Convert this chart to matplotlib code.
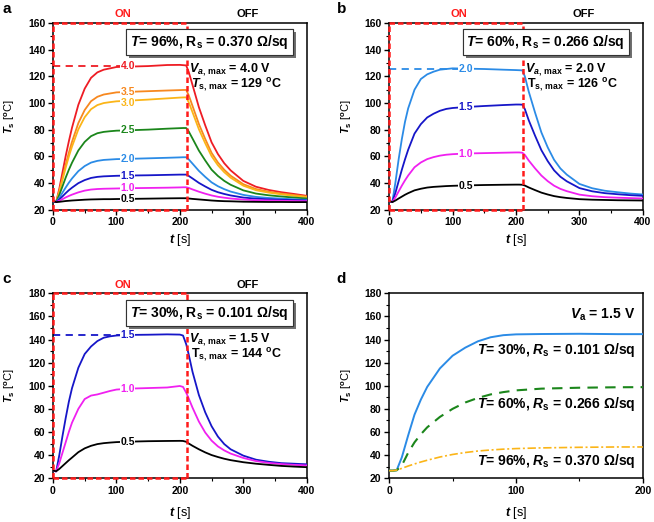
import matplotlib

matplotlib.use("Agg")
import matplotlib.pyplot as plt
import matplotlib.patheffects as pe
from matplotlib.ticker import MultipleLocator

plt.rcParams["font.family"] = ["Liberation Sans", "DejaVu Sans"]
plt.rcParams["font.weight"] = "bold"
plt.rcParams["mathtext.fontset"] = "custom"
plt.rcParams["mathtext.rm"] = "Liberation Sans:bold"
plt.rcParams["mathtext.it"] = "Liberation Sans:italic:bold"
plt.rcParams["mathtext.bf"] = "Liberation Sans:bold"

C_RED = "#ee1c24"
C_ORANGE = "#f7881f"
C_GOLD = "#fbb518"
C_GREEN = "#1b861b"
C_LBLUE = "#2b8be6"
C_BLUE = "#1616c8"
C_MAG = "#f020f0"
C_BLACK = "#000000"

# ---- data ---------------------------------------------------------------
# time grid for the on/off cycles (panels a-c)
t_cyc = [0, 5, 10, 15, 20, 25, 30, 40, 50, 60, 70, 80, 90, 100, 120, 150, 180, 200, 205, 210,
         214, 220, 230, 240, 250, 260, 270, 280, 300, 320, 340, 360, 380, 400]

# panel a: T = 96 %
a_volts = ["4.0", "3.5", "3.0", "2.5", "2.0", "1.5", "1.0", "0.5"]
a_40 = [26.5, 25.8, 35.9, 48.1, 60.2, 71.3, 81.5, 98.7, 110.8, 118.9, 123.0, 125.0, 126.0, 127.0,
        127.3, 127.7, 128.5, 128.6, 128.4, 128.2, 123.3, 113.5, 96.9, 83.3, 70.6, 61.8, 54.9,
        49.6, 41.7, 37.3, 34.9, 33.2, 31.9, 30.5]
a_35 = [26.5, 25.8, 34.0, 43.9, 53.7, 62.8, 71.0, 85.0, 94.8, 101.4, 104.7, 106.4, 107.2, 108.0,
        108.4, 108.9, 109.4, 109.7, 109.8, 109.8, 105.8, 97.8, 84.3, 73.1, 62.7, 55.5, 50.0,
        45.6, 39.2, 35.6, 33.6, 32.2, 31.1, 30.0]
a_30 = [26.5, 25.8, 33.4, 42.5, 51.5, 59.9, 67.4, 80.3, 89.4, 95.4, 98.5, 100.0, 100.7, 101.3,
        101.8, 102.6, 103.5, 104.1, 104.2, 104.3, 100.6, 93.1, 80.4, 69.9, 60.2, 53.4, 48.2,
        44.1, 38.1, 34.7, 32.9, 31.6, 30.5, 29.5]
a_25 = [26.5, 25.8, 31.2, 37.6, 44.1, 50.0, 55.3, 64.5, 70.9, 75.2, 77.4, 78.4, 78.9, 79.3,
        79.6, 80.1, 80.8, 81.2, 81.3, 81.3, 78.7, 73.4, 64.4, 57.0, 50.1, 45.4, 41.7,
        38.8, 34.6, 32.2, 30.9, 30.0, 29.2, 28.5]
a_20 = [26.5, 25.8, 29.0, 32.9, 36.7, 40.3, 43.5, 49.0, 52.8, 55.4, 56.7, 57.4, 57.7, 58.0,
        58.2, 58.6, 59.0, 59.3, 59.4, 59.4, 57.8, 54.6, 49.2, 44.7, 40.6, 37.7, 35.5,
        33.7, 31.2, 29.7, 28.9, 28.4, 27.9, 27.5]
a_15 = [26.5, 25.8, 27.8, 30.1, 32.5, 34.7, 36.6, 40.0, 42.3, 43.9, 44.7, 45.1, 45.3, 45.5,
        45.7, 45.9, 46.2, 46.4, 46.4, 46.4, 45.4, 43.5, 40.2, 37.5, 35.0, 33.2, 31.9,
        30.8, 29.2, 28.4, 27.9, 27.5, 27.3, 27.0]
a_10 = [26.5, 25.8, 26.8, 28.0, 29.3, 30.4, 31.4, 33.1, 34.4, 35.2, 35.6, 35.8, 35.9, 36.0,
        36.2, 36.4, 36.6, 36.8, 36.9, 36.9, 36.4, 35.3, 33.6, 32.1, 30.8, 29.8, 29.1,
        28.5, 27.7, 27.2, 27.0, 26.8, 26.6, 26.5]
a_05 = [26.5, 25.8, 26.0, 26.3, 26.6, 26.8, 27.0, 27.3, 27.6, 27.8, 27.9, 28.0, 28.0, 28.1,
        28.2, 28.4, 28.6, 28.7, 28.7, 28.7, 28.5, 28.2, 27.8, 27.4, 27.0, 26.7, 26.5,
        26.4, 26.1, 26.0, 25.9, 25.9, 25.8, 25.8]
a_label_y = [127.5, 108.6, 99.8, 79.5, 58.0, 45.6, 36.2, 28.3]

# panel b: T = 60 %
b_volts = ["2.0", "1.5", "1.0", "0.5"]
b_20 = [26.5, 25.8, 40.8, 57.9, 72.9, 85.9, 96.0, 110.0, 118.0, 121.5, 123.5, 125.0, 125.5, 126.0,
        125.8, 125.5, 125.0, 124.7, 124.6, 124.5, 119.9, 108.7, 92.9, 78.0, 66.8, 57.5, 51.0,
        46.4, 39.4, 36.2, 34.3, 33.2, 32.2, 31.5]
b_15 = [26.5, 25.8, 32.9, 41.5, 50.0, 57.8, 65.0, 77.1, 84.2, 89.2, 92.0, 94.2, 95.6, 96.3,
        97.0, 97.8, 98.5, 98.9, 98.9, 98.8, 95.4, 87.2, 75.6, 64.7, 56.5, 49.6, 44.8,
        41.4, 36.3, 33.9, 32.5, 31.7, 31.0, 30.5]
b_10 = [26.5, 25.8, 29.4, 33.8, 38.1, 42.1, 45.7, 51.9, 55.5, 58.0, 59.5, 60.6, 61.3, 61.7,
        62.2, 62.5, 62.8, 63.0, 63.0, 62.8, 61.1, 57.0, 51.1, 45.7, 41.5, 38.1, 35.7,
        34.0, 31.4, 30.2, 29.5, 29.1, 28.8, 28.5]
b_05 = [26.5, 25.8, 27.0, 28.5, 29.9, 31.3, 32.5, 34.6, 35.8, 36.7, 37.2, 37.5, 37.8, 38.0,
        38.3, 38.6, 38.8, 38.9, 38.9, 38.8, 38.2, 36.8, 34.8, 32.9, 31.5, 30.3, 29.5,
        28.9, 28.0, 27.6, 27.4, 27.2, 27.1, 27.0]
b_label_y = [125.8, 97.2, 62.0, 38.2]

# panel c: T = 30 %
c_volts = ["1.5", "1.0", "0.5"]
c_15 = [26.5, 25.8, 40.0, 56.5, 71.9, 86.1, 97.9, 115.6, 127.5, 134.0, 138.7, 141.6, 142.8, 143.5,
        144.0, 144.2, 144.5, 144.3, 143.5, 136.0, 127.0, 112.0, 92.0, 77.0, 65.0, 56.0, 49.5,
        45.0, 39.5, 36.0, 34.2, 33.0, 32.5, 32.0]
c_10 = [26.5, 25.8, 33.0, 42.0, 51.0, 60.0, 68.0, 80.0, 88.5, 91.5, 92.5, 94.0, 95.5, 96.7,
        97.5, 98.0, 98.5, 99.8, 99.0, 94.0, 89.0, 81.0, 69.0, 59.5, 52.5, 47.5, 44.0,
        41.3, 37.5, 34.8, 33.2, 32.2, 31.5, 31.0]
c_05 = [26.5, 26.0, 28.0, 30.5, 33.0, 35.5, 37.8, 42.5, 45.8, 48.0, 49.5, 50.3, 50.8, 51.2,
        51.6, 52.0, 52.2, 52.3, 52.2, 51.5, 50.0, 48.0, 45.0, 42.3, 40.0, 38.3, 36.8,
        35.6, 33.8, 32.5, 31.5, 30.6, 30.0, 29.5]
c_label_y = [143.8, 97.3, 51.4]

# panel d: heating at Va = 1.5 V
t_d = [0, 3, 6, 10, 15, 20, 25, 30, 40, 50, 60, 70, 80, 90, 100, 120, 150, 180, 200]
d_30 = [26.5, 26.5, 27.0, 38.0, 57.0, 75.0, 88.0, 99.0, 115.0, 126.0, 133.0, 138.5, 142.0,
        143.8, 144.5, 144.8, 145.0, 144.7, 144.7]
d_60 = [26.5, 26.5, 26.8, 31.0, 42.0, 51.0, 58.0, 64.0, 73.0, 80.0, 85.5, 89.5, 92.5,
        94.5, 96.0, 97.5, 98.3, 98.7, 98.8]
d_96 = [26.5, 26.5, 27.0, 28.5, 30.5, 32.3, 34.0, 35.5, 38.3, 40.5, 42.2, 43.5, 44.4,
        45.1, 45.6, 46.2, 46.7, 47.0, 47.0]

T_OFF = 211  # switch-off time [s]

YLAB = r"$\mathit{T}_\mathrm{s}$ [$^\mathrm{o}$C]"
XLAB = r"$\mathit{t}$ [s]"


def style_axes(ax, xmax, ymin, ymax, xmajor, xminor, xlab_y):
    ax.set_xlim(0, xmax)
    ax.set_ylim(ymin, ymax)
    ax.xaxis.set_major_locator(MultipleLocator(xmajor))
    ax.xaxis.set_minor_locator(MultipleLocator(xminor))
    ax.yaxis.set_major_locator(MultipleLocator(20))
    ax.yaxis.set_minor_locator(MultipleLocator(10))
    ax.tick_params(which="major", direction="out", length=3.5, width=1, labelsize=7.5, pad=2)
    ax.tick_params(which="minor", direction="out", length=2, width=0.8)
    for s in ax.spines.values():
        s.set_linewidth(1.1)
    ax.set_ylabel(YLAB, fontsize=8)
    ax.set_xlabel(XLAB, fontsize=9)
    ax.yaxis.set_label_coords(-0.14, 0.5)
    ax.xaxis.set_label_coords(0.5, xlab_y)


def on_off_frame(ax, ymin, ymax):
    kw = dict(color="#ff1a1a", lw=1.8, ls=(0, (2.2, 1.2)), clip_on=False, zorder=6)
    ax.plot([0, 0], [ymin, ymax], **kw)
    ax.plot([0, T_OFF], [ymax, ymax], **kw)
    ax.plot([0, T_OFF], [ymin, ymin], **kw)
    ax.plot([T_OFF, T_OFF], [ymin, ymax], **kw)
    tr = ax.get_xaxis_transform()
    ax.text(110, 1.02, "ON", color="#ff1a1a", fontsize=8, ha="center", va="bottom", transform=tr)
    ax.text(307, 1.02, "OFF", color="black", fontsize=8, ha="center", va="bottom", transform=tr)


def info_box(ax, text, y):
    t = ax.text(0.617, y, text, transform=ax.transAxes, ha="center", va="center", fontsize=10,
                zorder=7,
                bbox=dict(boxstyle="square,pad=0.28", fc="white", ec="#333333", lw=0.8))
    t.get_bbox_patch().set_path_effects(
        [pe.withSimplePatchShadow(offset=(2.2, -2.2), shadow_rgbFace="#707070", alpha=1.0),
         pe.Normal()])


def cycle_panel(ax, curves, colors, volts, label_y, label_x, box_text, box_y, vmax_text,
                tmax_text, ymin, ymax, xlab_y):
    for y, c in zip(curves, colors):
        ax.plot(t_cyc, y, color=c, lw=1.3, zorder=3)
    ax.plot([0, label_x], [label_y[0], label_y[0]], color=colors[0], lw=1.3,
            ls=(0, (4, 3)), zorder=2)
    for v, c, ly in zip(volts, colors, label_y):
        ax.text(label_x, ly, v, color=c, fontsize=7.5, ha="center", va="center", zorder=4,
                bbox=dict(fc="white", ec="none", pad=0.3))
    style_axes(ax, 400, ymin, ymax, 100, 50, xlab_y)
    on_off_frame(ax, ymin, ymax)
    info_box(ax, box_text, box_y)
    ax.text(0.535, 0.752, vmax_text, transform=ax.transAxes, fontsize=9, ha="left", va="center")
    ax.text(0.545, 0.667, tmax_text, transform=ax.transAxes, fontsize=9, ha="left", va="center")


fig = plt.figure(figsize=(6.54, 5.22), dpi=100)
axA = fig.add_axes([0.081, 0.598, 0.388, 0.358])
axB = fig.add_axes([0.595, 0.598, 0.388, 0.358])
axC = fig.add_axes([0.081, 0.084, 0.388, 0.354])
axD = fig.add_axes([0.595, 0.084, 0.388, 0.354])

# --- a ---------------------------------------------------------------------
cycle_panel(axA, [a_40, a_35, a_30, a_25, a_20, a_15, a_10, a_05],
            [C_RED, C_ORANGE, C_GOLD, C_GREEN, C_LBLUE, C_BLUE, C_MAG, C_BLACK],
            a_volts, a_label_y, 118,
            r"$\mathit{T}$= 96%, R$_\mathrm{s}$ = 0.370 Ω/sq", 0.898,
            r"$\mathit{V}_{\mathit{a},\,\mathrm{max}}$ = 4.0 V",
            r"$\mathit{T}_{\mathrm{s},\,\mathrm{max}}$ = 129 $^\mathrm{o}$C", 20, 160, -0.12)

# --- b ---------------------------------------------------------------------
cycle_panel(axB, [b_20, b_15, b_10, b_05], [C_LBLUE, C_BLUE, C_MAG, C_BLACK],
            b_volts, b_label_y, 121,
            r"$\mathit{T}$= 60%, R$_\mathrm{s}$ = 0.266 Ω/sq", 0.898,
            r"$\mathit{V}_{\mathit{a},\,\mathrm{max}}$ = 2.0 V",
            r"T$_{\mathrm{s},\,\mathrm{max}}$ = 126 $^\mathrm{o}$C", 20, 160, -0.12)

# --- c ---------------------------------------------------------------------
cycle_panel(axC, [c_15, c_10, c_05], [C_BLUE, C_MAG, C_BLACK],
            c_volts, c_label_y, 118,
            r"$\mathit{T}$= 30%, R$_\mathrm{s}$ = 0.101 Ω/sq", 0.894,
            r"$\mathit{V}_{\mathit{a},\,\mathrm{max}}$ = 1.5 V",
            r"T$_{\mathrm{s},\,\mathrm{max}}$ = 144 $^\mathrm{o}$C", 20, 180, -0.145)

# --- d ---------------------------------------------------------------------
axD.plot(t_d, d_30, color=C_LBLUE, lw=1.4, zorder=3)
axD.plot(t_d, d_60, color=C_GREEN, lw=1.5, ls=(0, (5, 3.5)), zorder=3)
axD.plot(t_d, d_96, color=C_GOLD, lw=1.2, ls=(0, (5, 1.6, 1.2, 1.6)), zorder=3)
style_axes(axD, 200, 20, 180, 100, 50, -0.145)
axD.text(0.97, 0.885, r"$\mathit{V}_\mathrm{a}$ = 1.5 V", transform=axD.transAxes,
         fontsize=10, ha="right", va="center")
for txt, y in ((r"$\mathit{T}$= 30%, $\mathit{R}_\mathrm{s}$ = 0.101 Ω/sq", 131),
               (r"$\mathit{T}$= 60%, $\mathit{R}_\mathrm{s}$ = 0.266 Ω/sq", 84),
               (r"$\mathit{T}$= 96%, $\mathit{R}_\mathrm{s}$ = 0.370 Ω/sq", 35)):
    axD.text(194, y, txt, fontsize=10, ha="right", va="center", zorder=5)

# panel letters
for lab, x, y in (("a", 0.004, 0.975), ("b", 0.515, 0.975), ("c", 0.004, 0.458), ("d", 0.515, 0.458)):
    fig.text(x, y, lab, fontsize=11, fontweight="bold", ha="left", va="baseline")

fig.savefig("out.png", dpi=100)
